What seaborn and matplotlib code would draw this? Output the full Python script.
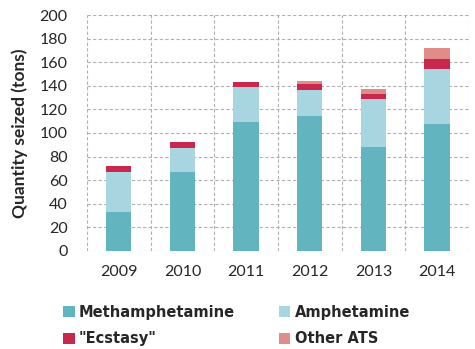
import matplotlib
matplotlib.use("Agg")
import matplotlib.pyplot as plt
import seaborn as sns
import numpy as np
import pandas as pd
from matplotlib.patches import Patch

years = ["2009", "2010", "2011", "2012", "2013", "2014"]
methamphetamine = [33.1, 67.0, 109.5, 114.6, 88.3, 107.5]
amphetamine = [33.4, 20.4, 29.7, 21.8, 40.7, 46.4]
ecstasy = [5.1, 4.8, 4.0, 4.8, 4.0, 8.8]
other_ats = [0.0, 0.0, 0.4, 2.5, 4.5, 9.3]
series_names = ["Methamphetamine", "Amphetamine", "\"Ecstasy\"", "Other ATS"]
yticks = [0, 20, 40, 60, 80, 100, 120, 140, 160, 180, 200]

colors = ["#62B4BF", "#A9D5E1", "#C8284B", "#E08C8A"]

sns.set_theme(style="white")
plt.rcParams["font.family"] = ["Lato", "DejaVu Sans"]

fig = plt.figure(figsize=(4.75, 3.49), dpi=100)
ax = fig.add_axes([0.183, 0.281, 0.804, 0.676])

layers = [methamphetamine, amphetamine, ecstasy, other_ats]
cum = np.cumsum(np.array(layers), axis=0)
# draw from top layer down so lower layers overlay
for i in range(len(layers) - 1, -1, -1):
    df = pd.DataFrame({"year": years, "value": cum[i]})
    sns.barplot(data=df, x="year", y="value", color=colors[i], width=0.4,
                saturation=1, ax=ax, linewidth=0, zorder=3)

ax.set_xlim(-0.5, 5.5)
ax.set_ylim(0, 200)
ax.set_yticks(yticks)
ax.set_yticklabels([str(v) for v in yticks], fontsize=11.5)
ax.set_xticks(range(len(years)))
ax.set_xticklabels(years, fontsize=11.5)
ax.set_xticks(np.arange(-0.5, 6, 1), minor=True)
ax.tick_params(axis="both", which="both", length=0)
ax.tick_params(axis="x", pad=10)
ax.tick_params(axis="y", pad=14)
ax.grid(axis="y", which="major", color="#B0B0B0", linestyle=(0, (3, 2)), linewidth=0.8, zorder=0)
ax.grid(axis="x", which="minor", color="#B0B0B0", linestyle=(0, (3, 2)), linewidth=0.8, zorder=0)
ax.grid(axis="x", which="major", visible=False)
for s in ax.spines.values():
    s.set_visible(False)
ax.set_xlabel("")
ax.set_ylabel("Quantity seized (tons)", fontsize=12.5, fontweight="bold", labelpad=8)

order = [0, 2, 1, 3]
handles = [Patch(facecolor=colors[i], edgecolor="none") for i in order]
labels = [series_names[i] for i in order]
leg = fig.legend(handles, labels, loc="upper left", bbox_to_anchor=(0.12, 0.144),
                 ncol=2, frameon=False, prop={"family": "DejaVu Sans", "weight": "bold", "size": 10.5},
                 handlelength=0.8, handleheight=0.8, handletextpad=0.3, columnspacing=3.0,
                 labelspacing=0.8, borderaxespad=0)
fig.savefig("out.png", dpi=100)
